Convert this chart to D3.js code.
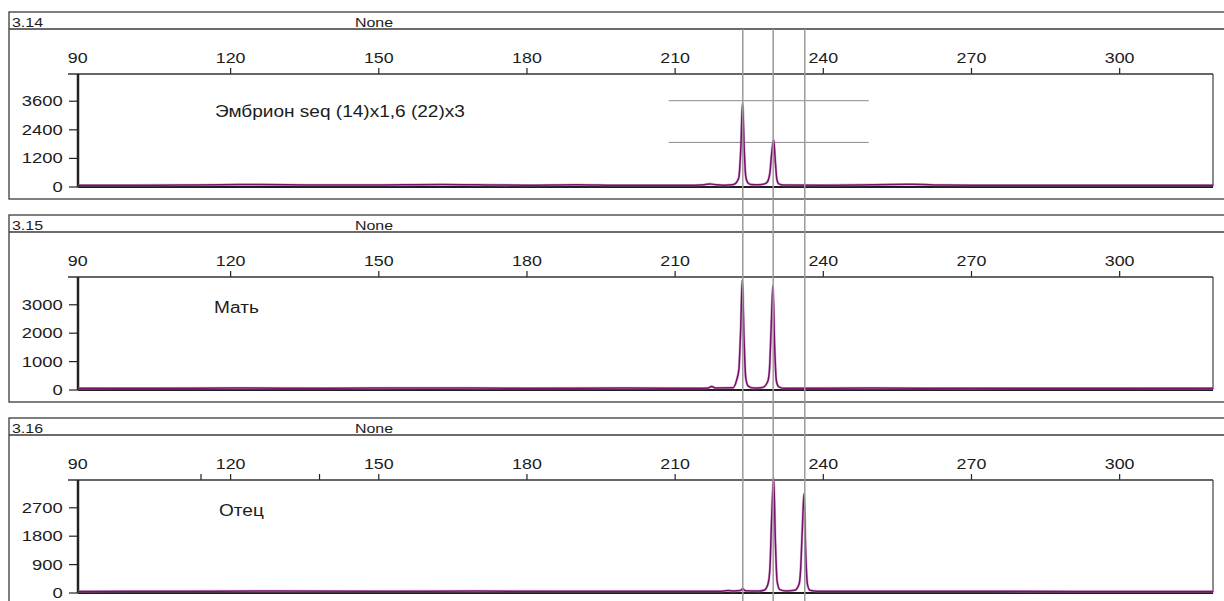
<!DOCTYPE html>
<html>
<head>
<meta charset="utf-8">
<script src="https://cdn.jsdelivr.net/npm/d3@7"></script>
<style>
  body { margin: 0; background: #fff; }
  svg { display: block; font-family: "Liberation Sans", Arial, sans-serif; }
</style>
</head>
<body>
<svg id="chart" width="1224" height="601"></svg>
<script>
// --- data ---
const panelIds = ['3.14', '3.15', '3.16'];
const headerNote = 'None';
const sampleNames = ['Эмбрион seq (14)x1,6 (22)x3', 'Мать', 'Отец'];
const sizeTicks = [90, 120, 150, 180, 210, 240, 270, 300];
const extraTicks = [[], [], [114, 138]];
const yMax = [4720, 3960, 3565];
const yTicks = [[0, 1200, 2400, 3600], [0, 1000, 2000, 3000], [0, 900, 1800, 2700]];
const binLines = [223.8, 229.95, 236.35];
const thresholdLevels = [3600, 1850];
const thresholdRange = [208.8, 249.3];

const trace1 = [
  [89.2, 50], [100, 55], [110, 60], [118, 75], [125, 80], [135, 65], [145, 60], [155, 70],
  [163, 85], [170, 70], [180, 55], [190, 75], [198, 55], [208, 50], [214, 55], [216, 75],
  [217.2, 110], [218.4, 70], [220, 55], [221.6, 70], [222.2, 110], [222.55, 180], [223.0, 380],
  [223.4, 1600], [223.75, 3490], [224.1, 1500], [224.4, 420], [224.8, 160], [225.5, 80],
  [227, 70], [228.2, 110], [228.8, 200], [229.3, 600], [229.6, 1300], [230.05, 1950],
  [230.4, 1000], [230.7, 300], [231.1, 110], [232, 60], [240, 55], [250, 75], [258, 90],
  [265, 60], [280, 50], [300, 55], [319, 50]
];
const trace2 = [
  [89.2, 40], [105, 45], [120, 50], [140, 45], [160, 55], [180, 45], [200, 50], [215, 45],
  [216.8, 55], [217.5, 110], [218.2, 55], [221.8, 60], [222.55, 330], [223.0, 700],
  [223.35, 2000], [223.7, 3865], [224.05, 1800], [224.4, 400], [224.9, 120], [226, 50],
  [227.8, 70], [228.85, 280], [229.2, 700], [229.55, 2200], [229.9, 3653], [230.25, 1500],
  [230.6, 300], [231.1, 90], [232, 45], [250, 50], [270, 40], [300, 45], [319, 40]
];
const trace3 = [
  [89.2, 35], [110, 40], [130, 45], [150, 40], [170, 45], [190, 40], [210, 40], [219, 40],
  [220.8, 60], [222, 45], [223.3, 60], [223.8, 120], [224.3, 55], [227, 45], [228.2, 80],
  [228.95, 300], [229.3, 800], [229.65, 2400], [230.05, 3630], [230.4, 1600], [230.75, 350],
  [231.3, 90], [232.5, 50], [234.3, 70], [235.2, 270], [235.5, 700], [235.85, 2000],
  [236.2, 3126], [236.55, 1200], [236.9, 250], [237.4, 70], [239, 40], [260, 40], [290, 35],
  [319, 35]
];
const traces = [trace1, trace2, trace3];

// --- layout ---
const W = 1224, H = 601;
const panelTop = [12, 215, 418];
const boxLeft = 9, headerH = 17, boxH = 187;
const plotTop = 62, plotBase = 174.5;
const plotLeft = 78, plotRight = 1213;
const labelPos = [[215, 101], [214, 94], [219, 94]];
const traceColor = '#76106b';
const textColor = '#1c1c1c';
const stretch = 1.19; // the scan is wider than tall, text looks stretched

const svg = d3.select('#chart');

// text placed at (px, py) and stretched horizontally
function wideText(g, px, py, size, str) {
  return g.append('text')
    .attr('transform', `translate(${px},${py}) scale(${stretch},1)`)
    .attr('font-size', size).attr('fill', textColor)
    .text(str);
}

const x = d3.scaleLinear().domain([89.2, 319]).range([plotLeft, plotRight]);

panelIds.forEach((id, i) => {
  const g = svg.append('g').attr('transform', `translate(0,${panelTop[i]})`);
  const y = d3.scaleLinear().domain([0, yMax[i]]).range([plotBase, plotTop]);

  // outer box + header strip
  g.append('rect')
    .attr('x', boxLeft).attr('y', 0)
    .attr('width', W + 20).attr('height', boxH)
    .attr('fill', 'none').attr('stroke', '#3a3a3a').attr('stroke-width', 1.3);
  g.append('line')
    .attr('x1', boxLeft).attr('x2', W + 20)
    .attr('y1', headerH).attr('y2', headerH)
    .attr('stroke', '#3a3a3a').attr('stroke-width', 1.3);
  wideText(g, boxLeft + 3, 14.7, 13.4, id);
  wideText(g, 355, 14.7, 13.4, headerNote);

  // right border of plot
  g.append('line')
    .attr('x1', plotRight).attr('x2', plotRight)
    .attr('y1', plotTop).attr('y2', plotBase)
    .attr('stroke', '#666').attr('stroke-width', 1.5);

  // thresholds (first panel only)
  if (i === 0) {
    g.selectAll('line.thr').data(thresholdLevels).join('line')
      .attr('class', 'thr')
      .attr('x1', x(thresholdRange[0])).attr('x2', x(thresholdRange[1]))
      .attr('y1', d => y(d)).attr('y2', d => y(d))
      .attr('stroke', '#8a8a8a').attr('stroke-width', 1);
  }

  // x axis on top
  const xAxis = d3.axisTop(x)
    .tickValues(sizeTicks.concat(extraTicks[i]))
    .tickSize(6).tickPadding(5)
    .tickFormat(d => sizeTicks.includes(d) ? d : '');
  const xg = g.append('g').attr('transform', `translate(0,${plotTop})`).call(xAxis);
  xg.select('.domain').remove();
  xg.selectAll('.tick line').attr('stroke', '#222').attr('stroke-width', 1.2)
    .filter(d => d === 90).remove();
  xg.selectAll('.tick text')
    .attr('transform', `scale(${stretch},1)`)
    .attr('dx', d => d === 90 ? -4 : 0)
    .attr('font-size', 15).attr('fill', textColor)
    .attr('font-family', '"Liberation Sans", Arial, sans-serif');
  g.append('line')
    .attr('x1', 68).attr('x2', plotRight)
    .attr('y1', plotTop).attr('y2', plotTop)
    .attr('stroke', '#333').attr('stroke-width', 1.3);

  // y axis
  const yAxis = d3.axisLeft(y).tickValues(yTicks[i]).tickSize(8).tickPadding(5)
    .tickFormat(d3.format('d'));
  const yg = g.append('g').attr('transform', `translate(${plotLeft - 1},0)`).call(yAxis);
  yg.select('.domain').remove();
  yg.selectAll('.tick line').attr('stroke', '#222').attr('stroke-width', 1.2);
  yg.selectAll('.tick text')
    .attr('x', -14.3 / stretch)
    .attr('transform', `scale(${stretch},1)`)
    .attr('font-size', 15.5).attr('fill', textColor)
    .attr('font-family', '"Liberation Sans", Arial, sans-serif');
  g.append('line')
    .attr('x1', plotLeft).attr('x2', plotLeft)
    .attr('y1', plotTop).attr('y2', plotBase + 1)
    .attr('stroke', '#222').attr('stroke-width', 2.5);

  // baseline
  g.append('line')
    .attr('x1', plotLeft).attr('x2', plotRight)
    .attr('y1', y(0) + 0.5).attr('y2', y(0) + 0.5)
    .attr('stroke', '#1e1e1e').attr('stroke-width', 2);

  // trace
  const line = d3.line()
    .x(d => x(d[0])).y(d => y(d[1]))
    .curve(d3.curveMonotoneX);
  g.append('path').datum(traces[i])
    .attr('d', line)
    .attr('fill', 'none')
    .attr('stroke', '#c07ab8').attr('stroke-width', 2.6).attr('opacity', 0.55);
  g.append('path').datum(traces[i])
    .attr('d', line)
    .attr('fill', 'none')
    .attr('stroke', traceColor).attr('stroke-width', 1.5);

  // sample name
  wideText(g, labelPos[i][0], labelPos[i][1], 16, sampleNames[i])
    .attr('dominant-baseline', 'middle');
});

// bin lines through all panels
svg.selectAll('line.bin').data(binLines).join('line')
  .attr('class', 'bin')
  .attr('x1', d => x(d)).attr('x2', d => x(d))
  .attr('y1', panelTop[0] + headerH).attr('y2', H)
  .attr('stroke', '#9a9a9a').attr('stroke-width', 1.5);
</script>
</body>
</html>
